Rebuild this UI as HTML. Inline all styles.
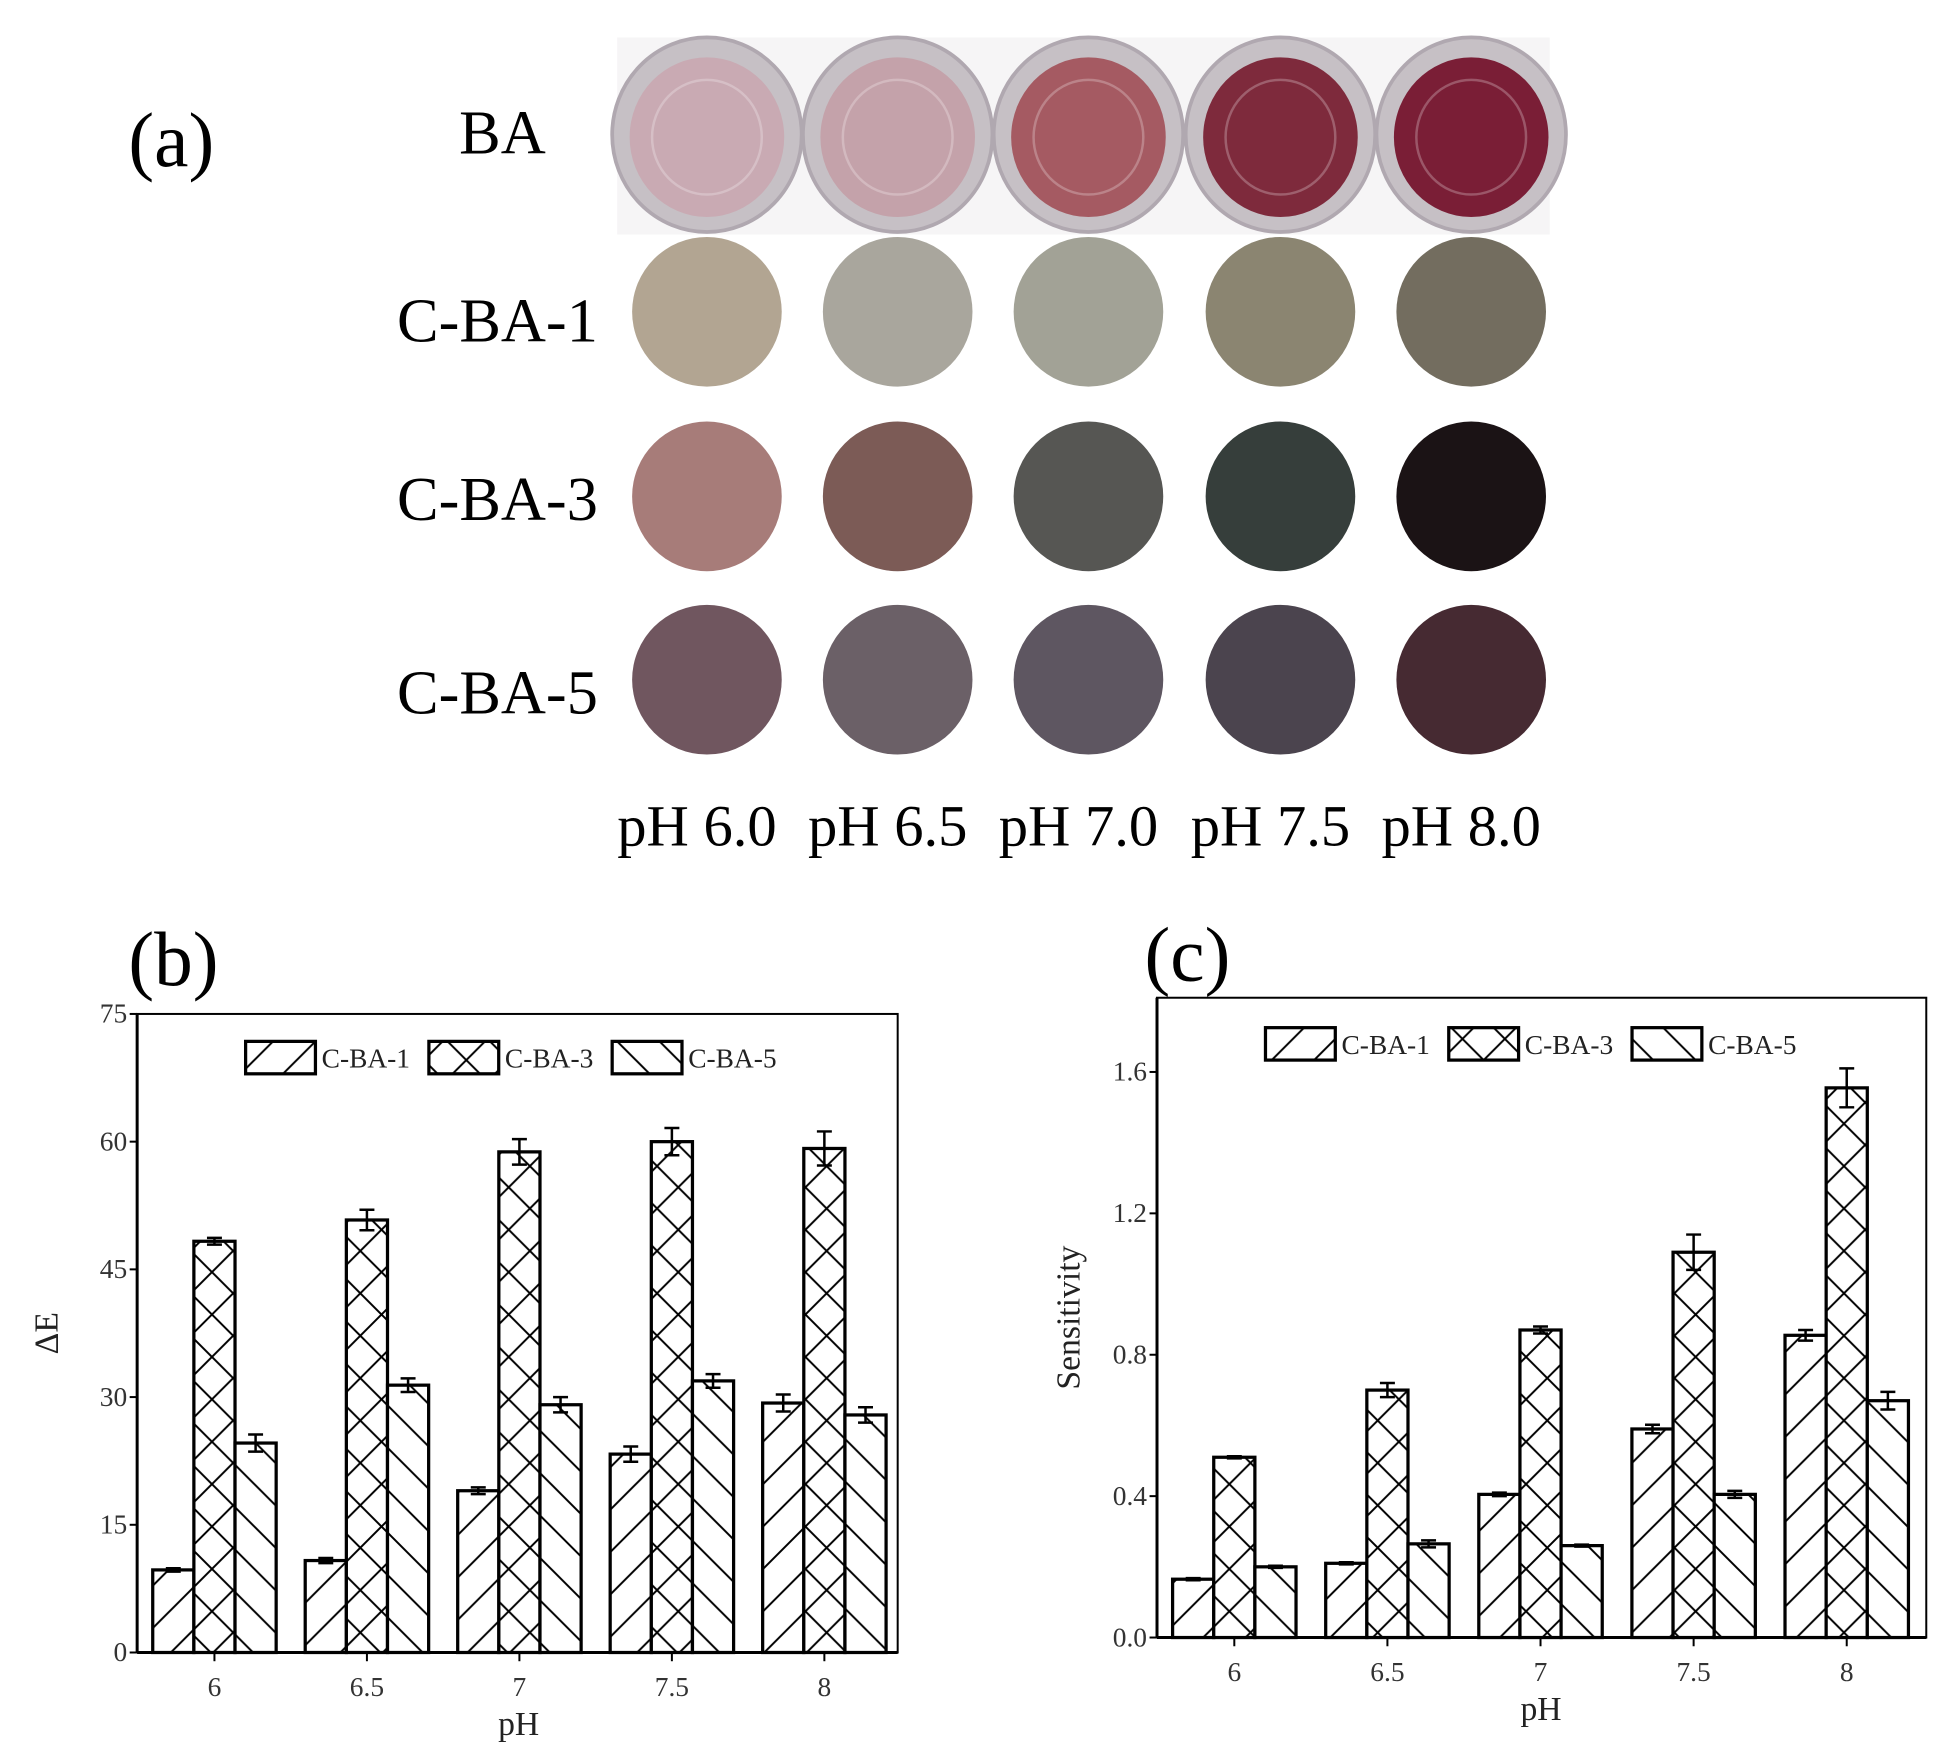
<!DOCTYPE html>
<html><head><meta charset="utf-8">
<style>
html,body{margin:0;padding:0;background:#fff;}
svg{display:block;}
text{font-family:"Liberation Serif",serif;}
</style></head>
<body>
<svg id="fig" width="1935" height="1761" viewBox="0 0 1552 1412" preserveAspectRatio="none" xmlns="http://www.w3.org/2000/svg">
<defs>
<pattern id="hf" patternUnits="userSpaceOnUse" width="34" height="34"><path d="M-2,36 L36,-2 M-19,19 L19,-19 M15,53 L53,15" stroke="#000" stroke-width="1.6"/></pattern>
<pattern id="hb" patternUnits="userSpaceOnUse" width="34" height="34"><path d="M-2,-2 L36,36 M-19,15 L19,53 M15,-19 L53,19" stroke="#000" stroke-width="1.6"/></pattern>
<pattern id="hx" patternUnits="userSpaceOnUse" width="34" height="34"><path d="M-2,36 L36,-2 M-19,19 L19,-19 M15,53 L53,15 M-2,-2 L36,36 M-19,15 L19,53 M15,-19 L53,19" stroke="#000" stroke-width="1.6"/></pattern>
</defs>

<!-- Panel (a) -->
<text x="103" y="133" font-size="62">(a)</text>
<text x="403" y="123" font-size="50" text-anchor="middle">BA</text>
<text x="399" y="274" font-size="50" text-anchor="middle">C-BA-1</text>
<text x="399" y="417" font-size="50" text-anchor="middle">C-BA-3</text>
<text x="399" y="572" font-size="50" text-anchor="middle">C-BA-5</text>
<g id="photo">
<rect x="495" y="30" width="748" height="158" fill="#f6f5f6"/>
</g>
<g id="circles"></g>
<g id="phlabels"></g>

<!-- Panel (b) -->
<text x="103" y="790" font-size="62">(b)</text>
<g id="chartB"></g>
<!-- Panel (c) -->
<text x="918" y="786" font-size="62">(c)</text>
<g id="chartC"></g>
</svg>

<script>
var NS="http://www.w3.org/2000/svg";
function mk(tag,attrs,parent){var e=document.createElementNS(NS,tag);for(var k in attrs)e.setAttribute(k,attrs[k]);parent.appendChild(e);return e;}

// ---- Panel (a) data ----
var phLabels=["pH 6.0","pH 6.5","pH 7.0","pH 7.5","pH 8.0"];
var wellColors=["#c9aab3","#c4a2aa","#a55a62","#7e2a3c","#7a1e36"];
var cba1Colors=["#b2a592","#a9a69d","#a2a296","#8b8571","#736d5f"];
var cba3Colors=["#a77c79","#7c5b56","#565653","#363e3b","#1b1315"];
var cba5Colors=["#70565f","#6b6067","#5e5661","#4b444e","#462a32"];

var colX=[567,720,873,1027,1180];
var photo=document.getElementById('photo');
for(var i=0;i<5;i++){
  var o=mk('ellipse',{cx:colX[i],cy:108,rx:76,ry:78,fill:'#c6c0c5',stroke:'#b0a8b0','stroke-width':3},photo);
  
  
  var w=mk('ellipse',{cx:colX[i],cy:110,rx:62,ry:64,fill:wellColors[i]},photo);
  
  
  mk('ellipse',{cx:colX[i],cy:110,rx:44,ry:46,fill:'none',stroke:'#fff','stroke-opacity':0.25,'stroke-width':2},photo);
}
var circ=document.getElementById('circles');
var rows=[[250,cba1Colors,'cba1'],[398,cba3Colors,'cba3'],[545,cba5Colors,'cba5']];
rows.forEach(function(r){
  for(var i=0;i<5;i++){
    var c=mk('circle',{cx:colX[i],cy:r[0],r:60,fill:r[1][i]},circ);
    
    
  }
});
var phg=document.getElementById('phlabels');
for(var i=0;i<5;i++){
  var t=mk('text',{x:colX[i]-8,y:678,'font-size':47,'text-anchor':'middle'},phg);
  t.textContent=phLabels[i];
  
  
}

// ---- Panel (b) data ----
var catsB=["6","6.5","7","7.5","8"];
var b1=[9.7,10.8,19.0,23.3,29.3];
var b3=[48.3,50.8,58.8,60.0,59.2];
var b5=[24.6,31.4,29.1,31.9,27.9];
var b1e=[0.2,0.3,0.4,0.9,1.0];
var b3e=[0.4,1.2,1.5,1.6,2.0];
var b5e=[1.0,0.8,0.9,0.8,0.9];
var ticksB=[0,15,30,45,60,75];

// ---- Panel (c) data ----
var catsC=["6","6.5","7","7.5","8"];
var c1=[0.165,0.21,0.405,0.59,0.855];
var c3=[0.51,0.70,0.87,1.09,1.555];
var c5=[0.20,0.265,0.26,0.405,0.67];
var c1e=[0.003,0.003,0.005,0.012,0.015];
var c3e=[0.003,0.02,0.01,0.05,0.055];
var c5e=[0.003,0.01,0.003,0.01,0.025];
var ticksC=["0.0","0.4","0.8","1.2","1.6"];
var seriesNames=["C-BA-1","C-BA-3","C-BA-5"];

function drawChart(g,cfg){
  var L=cfg.left,R=cfg.right,T=cfg.top,B=cfg.bottom;
  function y(v){return B-(v-cfg.ymin)/(cfg.ymax-cfg.ymin)*(B-T);}
  var n=cfg.cats.length;
  var first=cfg.firstX, step=cfg.step;
  function x(i){return first+i*step;}
  var bw=cfg.bw;
  var fills=['url(#hf)','url(#hx)','url(#hb)'];
  var series=cfg.series, errs=cfg.errs;
  for(var s=0;s<3;s++){
    for(var i=0;i<n;i++){
      var bx=x(i)+(s-1.5)*bw;
      var by=y(series[s][i]);
      mk('rect',{x:bx,y:by,width:bw,height:B-by,fill:'#fff'},g);
      var r2=mk('rect',{x:bx,y:by,width:bw,height:B-by,fill:fills[s],stroke:'#000','stroke-width':2.6},g);
      
      
      var cx=bx+bw/2, e=errs[s][i];
      var eg=mk('path',{d:'M'+cx+','+y(series[s][i]+e)+'V'+y(series[s][i]-e)+'M'+(cx-6)+','+y(series[s][i]+e)+'h12M'+(cx-6)+','+y(series[s][i]-e)+'h12',stroke:'#000','stroke-width':2,fill:'none'},g);
      
      
    }
  }
  var fr=mk('rect',{x:L,y:T,width:R-L,height:B-T,fill:'none',stroke:'#000','stroke-width':1.6},g);
  
  
  mk('line',{x1:L,y1:B,x2:R,y2:B,stroke:'#000','stroke-width':2.4},g);
  mk('line',{x1:L,y1:T,x2:L,y2:B,stroke:'#000','stroke-width':2.4},g);
  for(var k=0;k<cfg.ticks.length;k++){
    var tv=parseFloat(cfg.ticks[k]);
    var ty=y(tv);
    mk('line',{x1:L-6,y1:ty,x2:L,y2:ty,stroke:'#000','stroke-width':1.6},g);
    var t=mk('text',{x:L-8,y:ty+7,'font-size':22,'text-anchor':'end',fill:'#333'},g);
    t.textContent=cfg.ticks[k];
    
    
  }
  for(var i=0;i<n;i++){
    mk('line',{x1:x(i),y1:B,x2:x(i),y2:B+7,stroke:'#000','stroke-width':1.6},g);
    var t=mk('text',{x:x(i),y:B+35,'font-size':22,'text-anchor':'middle',fill:'#333'},g);
    t.textContent=cfg.cats[i];
    
    
  }
  var xt=mk('text',{x:cfg.xlabX,y:B+66,'font-size':27,'text-anchor':'middle',fill:'#222'},g);
  xt.textContent='pH';
  
  
  var yt=mk('text',{x:0,y:0,'font-size':27,'text-anchor':'middle',fill:'#222',transform:'translate('+cfg.ylabX+','+((T+B)/2)+') rotate(-90)'},g);
  yt.textContent=cfg.ylabel;
  
  
  var lx=cfg.legX, ly=cfg.legY;
  for(var s=0;s<3;s++){
    var bxl=lx+s*147;
    mk('rect',{x:bxl,y:ly-13,width:56,height:26,fill:'#fff'},g);
    var lb2=mk('rect',{x:bxl,y:ly-13,width:56,height:26,fill:fills[s],stroke:'#000','stroke-width':2.6},g);
    
    
    var lt=mk('text',{x:bxl+61,y:ly+8,'font-size':22,fill:'#222'},g);
    lt.textContent=seriesNames[s];
    
    
  }
}

drawChart(document.getElementById('chartB'),{
  left:110,right:720,top:813,bottom:1325,ymin:0,ymax:75,
  cats:catsB,firstX:172,step:122.3,bw:33,
  series:[b1,b3,b5],errs:[b1e,b3e,b5e],ticks:ticksB,
  xlabX:416,ylabX:46,ylabel:'\u0394E',legX:197,legY:848
});
drawChart(document.getElementById('chartC'),{
  left:928,right:1545,top:800,bottom:1313,ymin:0,ymax:1.81,
  cats:catsC,firstX:990,step:122.8,bw:33,
  series:[c1,c3,c5],errs:[c1e,c3e,c5e],ticks:ticksC,
  xlabX:1236,ylabX:866,ylabel:'Sensitivity',legX:1015,legY:837
});
</script>
</body></html>
